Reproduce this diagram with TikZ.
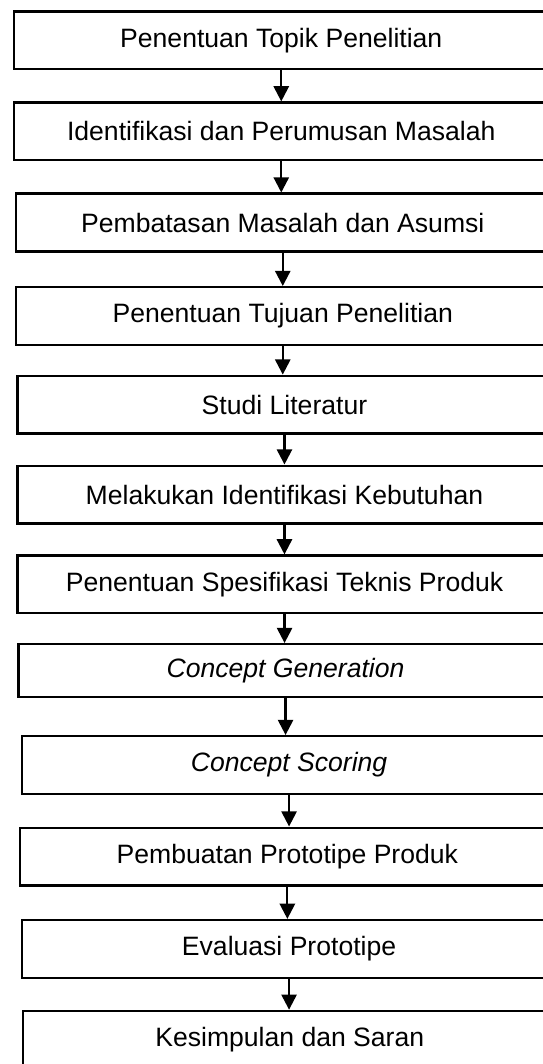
\documentclass[tikz,border=0pt]{standalone}
\usepackage{fontspec}
\setmainfont{Liberation Sans}
\usetikzlibrary{positioning,arrows.meta}

\begin{document}
\begin{tikzpicture}[
  x=0.025cm, y=-0.025cm,
  stage/.style={rectangle, draw=black, line width=1.7pt, anchor=west, minimum width=13.35cm, minimum height=1.44cm, inner sep=0pt, font=\fontsize{18.9}{22}\selectfont},
  flow/.style={line width=1.6pt, -{Triangle[width=0.38cm,length=0.38cm]}},
]
\useasboundingbox (0,0) rectangle (543,1064);
\clip (0,0) rectangle (543,1064);

\node(topik) [stage] at (13,40.2){Penentuan Topik Penelitian};
\node(rumusan) [stage] at (13,131.4){Identifikasi dan Perumusan Masalah};
\node(batasan) [stage] at (14.5,222.5){Pembatasan Masalah dan Asumsi};
\node(tujuan) [stage] at (14.5,316){Penentuan Tujuan Penelitian};
\node(literatur) [stage] at (16.2,404.6){Studi Literatur};
\node(kebutuhan) [stage] at (16.2,494.5){Melakukan Identifikasi Kebutuhan};
\node(spesifikasi) [stage] at (16.3,584.4){Penentuan Spesifikasi Teknis Produk};
\node(generation) [stage,minimum height=1.32cm] at (17.3,670.6){\textit{Concept Generation}};
\node(scoring) [stage] at (20.8,765){\textit{Concept Scoring}};
\node(prototipe) [stage] at (19.1,856.5){Pembuatan Prototipe Produk};
\node(evaluasi) [stage] at (20.8,948.9){Evaluasi Prototipe};
\node(kesimpulan) [stage] at (21.5,1039.7){Kesimpulan dan Saran};

\draw[flow] (topik.south) -- (topik.south |- rumusan.north);
\draw[flow] (rumusan.south) -- (rumusan.south |- batasan.north);
\draw[flow] (batasan.south) -- (batasan.south |- tujuan.north);
\draw[flow] (tujuan.south) -- (tujuan.south |- literatur.north);
\draw[flow] (literatur.south) -- (literatur.south |- kebutuhan.north);
\draw[flow] (kebutuhan.south) -- (kebutuhan.south |- spesifikasi.north);
\draw[flow] (spesifikasi.south) -- (spesifikasi.south |- generation.north);
\draw[flow] (generation.south) -- (generation.south |- scoring.north);
\draw[flow] (scoring.south) -- (scoring.south |- prototipe.north);
\draw[flow] (prototipe.south) -- (prototipe.south |- evaluasi.north);
\draw[flow] (evaluasi.south) -- (evaluasi.south |- kesimpulan.north);

\end{tikzpicture}
\end{document}
